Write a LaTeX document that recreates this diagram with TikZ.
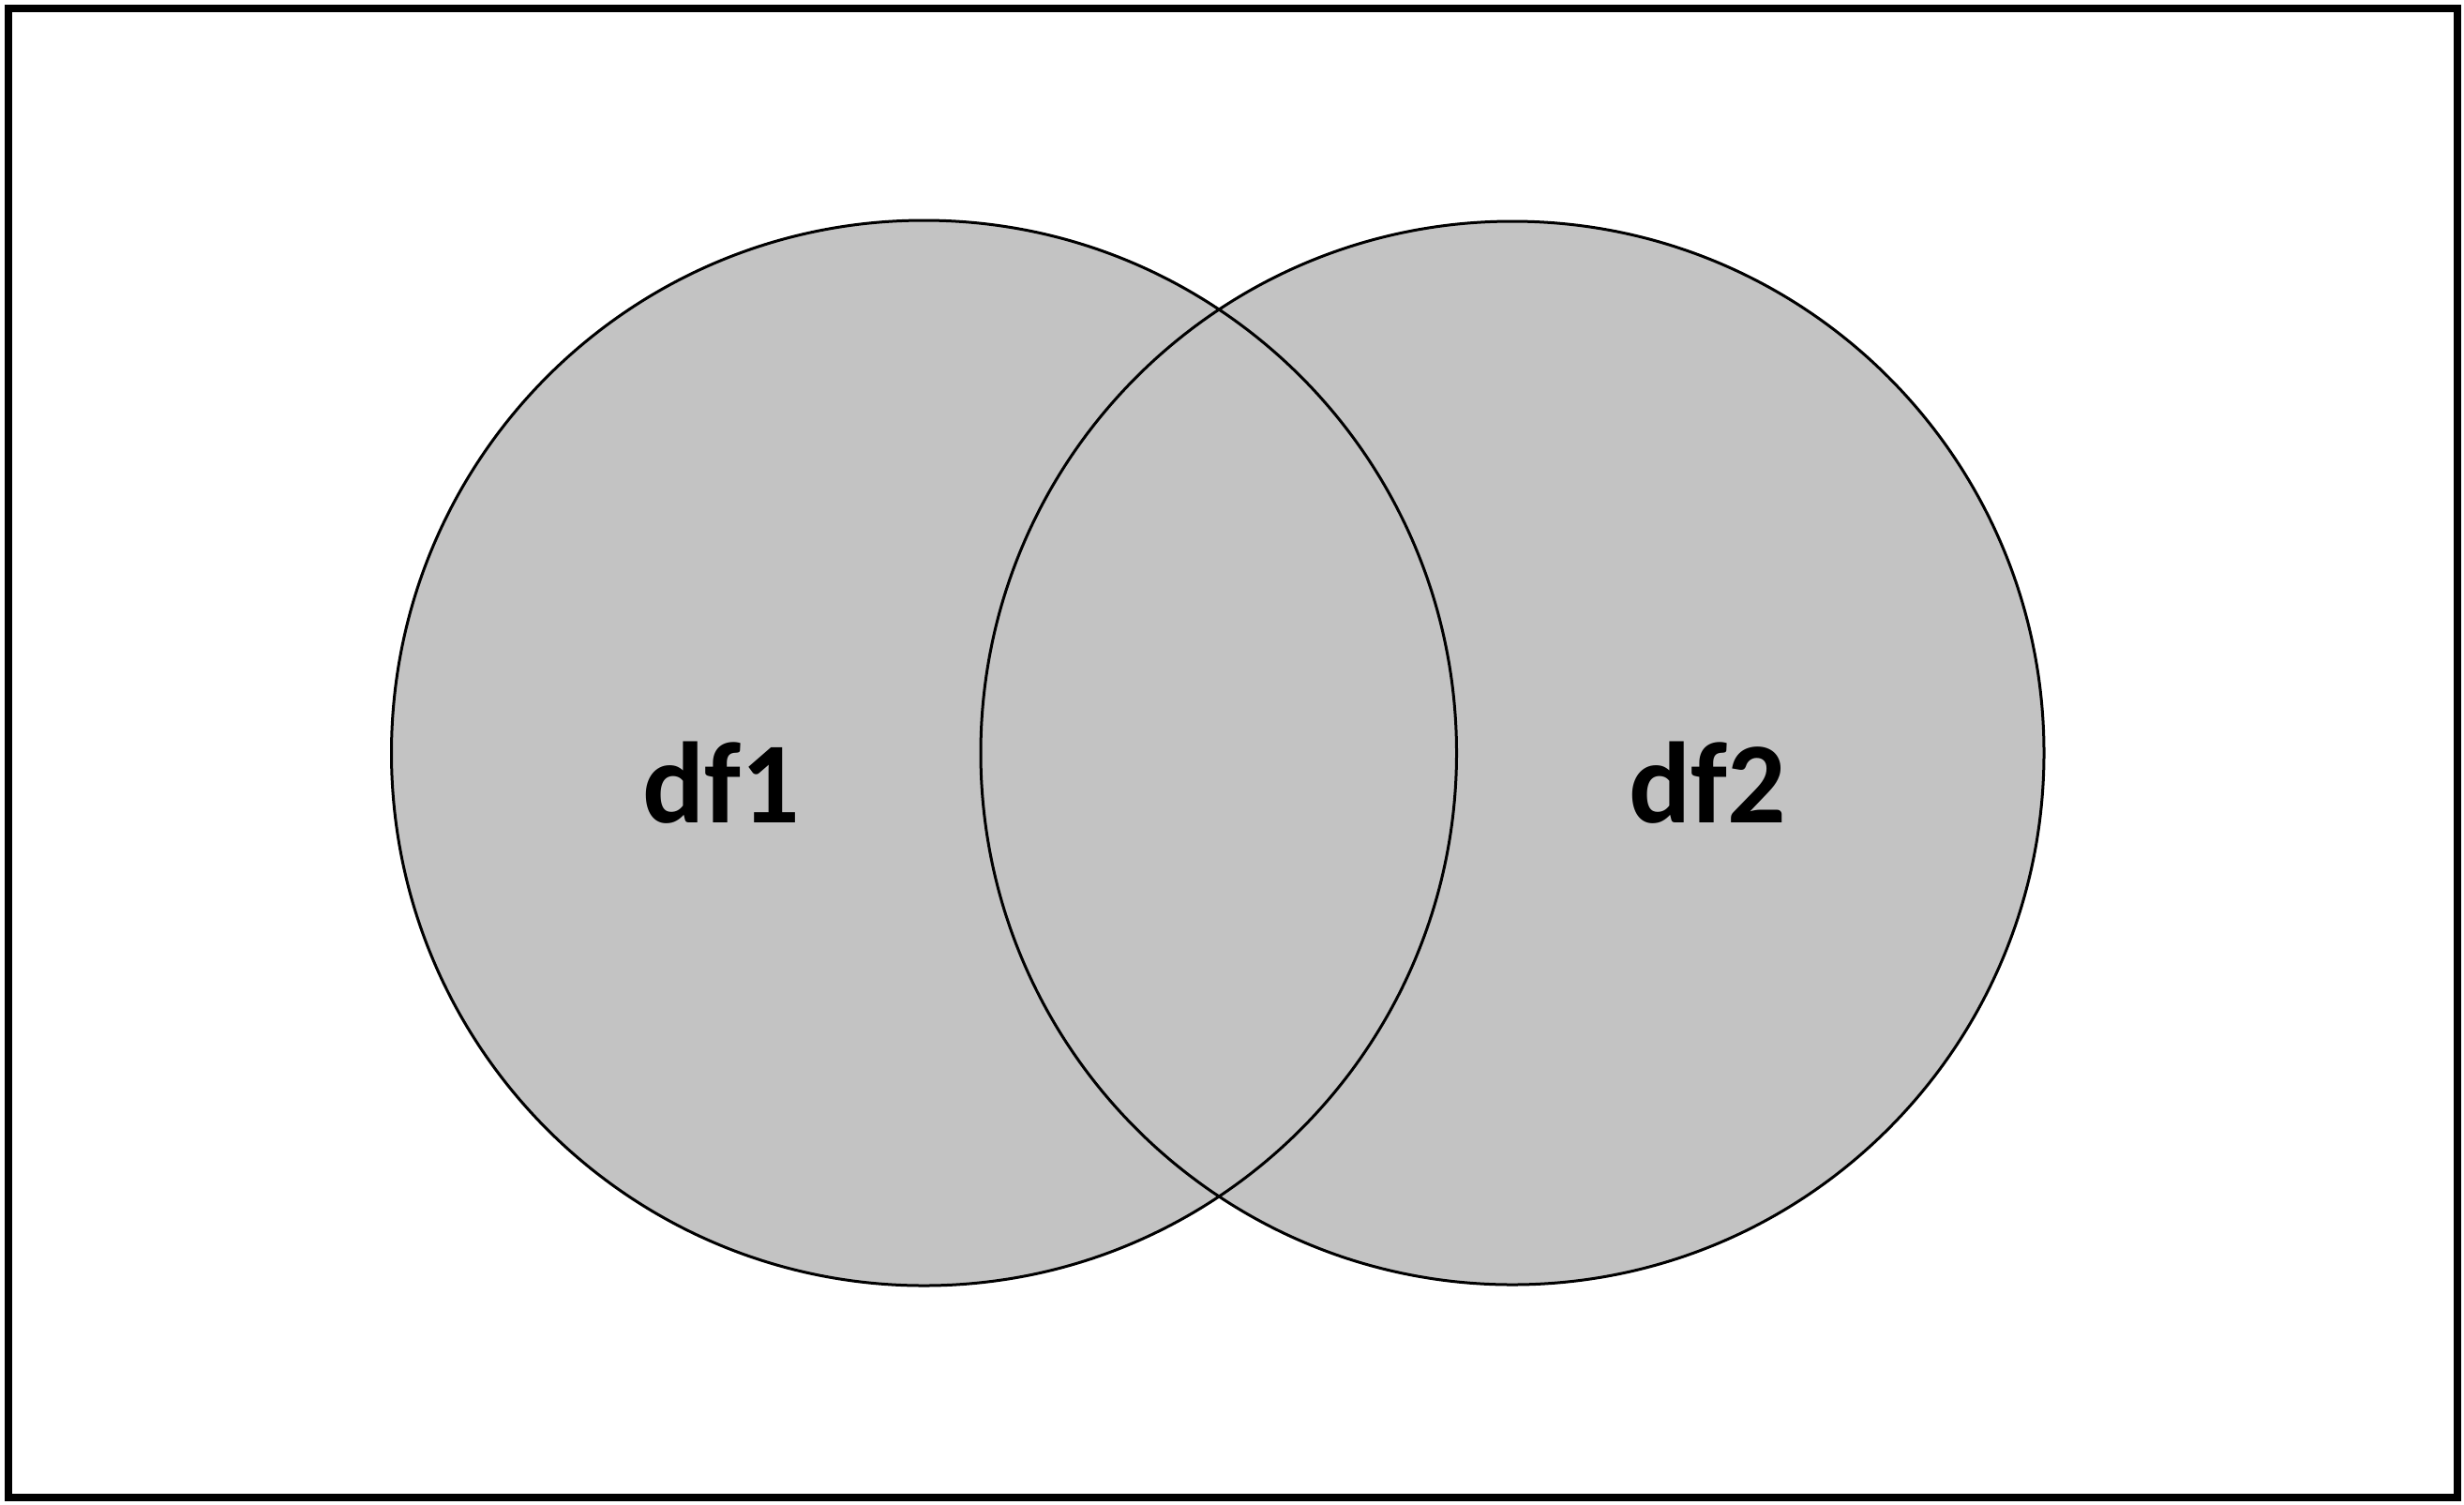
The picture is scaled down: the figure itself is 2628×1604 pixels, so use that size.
\documentclass[tikz,border=0pt]{standalone}
\usepackage{fontspec}
\setmainfont{Carlito}
\usepackage{tikz}

\definecolor{setgray}{HTML}{C3C3C3}

\begin{document}
\begin{tikzpicture}[x=0.3pt,y=0.3pt,yscale=-1,xscale=1]
\useasboundingbox (0,0) rectangle (2628,1604);

%Frame
\draw [line width=2.4pt] (9,9) rectangle (2621,1597);

%Filled sets
\node [circle, fill=setgray, inner sep=0pt, minimum size=340.8pt] (set1) at (985.5,803) {};
\node [circle, fill=setgray, inner sep=0pt, minimum size=340.2pt] (set2) at (1613,803) {};

%Outlines
\draw [line width=0.9pt] (set1.center) circle [radius=568];
\draw [line width=0.9pt] (set2.center) circle [radius=567];

% Text Node
\node [anchor=base, inner sep=0pt, font=\bfseries\fontsize{37}{40}\selectfont] (lab1) at (769.5,877) {df1};
% Text Node
\node [anchor=base, inner sep=0pt, font=\bfseries\fontsize{37}{40}\selectfont] (lab2) at (1821.5,877) {df2};

\end{tikzpicture}
\end{document}
